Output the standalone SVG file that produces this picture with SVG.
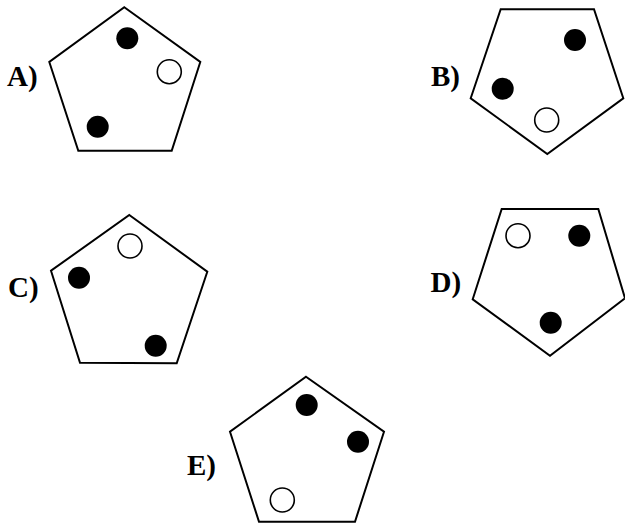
<svg xmlns="http://www.w3.org/2000/svg" width="625" height="525" viewBox="0 0 625 525">
<style>
.pent{fill:none;stroke:#000;stroke-width:2;stroke-linejoin:miter}
.dot{fill:#000}
.ring{fill:#fff;stroke:#000;stroke-width:1.6}
</style>
<rect width="625" height="525" fill="#fff"/>
<g id="optA">
<polygon class="pent" points="124.3,7.3 200.3,62 171.7,150.7 78.3,150.7 49.3,62"/>
<circle class="dot" cx="127.3" cy="38.3" r="11"/>
<circle class="ring" cx="169.3" cy="71.7" r="12"/>
<circle class="dot" cx="97.7" cy="126.7" r="11"/>
<text x="7" y="86" font-family="Liberation Serif, serif" font-weight="bold" font-size="29">A)</text>
</g>
<g id="optB">
<polygon class="pent" points="500.7,9.3 594,9.3 623.3,98.3 547.3,154 470.7,98.3"/>
<circle class="dot" cx="575" cy="40" r="11"/>
<circle class="dot" cx="502.7" cy="88.7" r="11"/>
<circle class="ring" cx="546.7" cy="120" r="12"/>
<text x="431" y="86" font-family="Liberation Serif, serif" font-weight="bold" font-size="29">B)</text>
</g>
<g id="optC">
<polygon class="pent" points="129.3,215 207.3,271.7 176.7,363.3 80,362.7 51,270.7"/>
<circle class="ring" cx="130" cy="246" r="12"/>
<circle class="dot" cx="79" cy="277.7" r="11"/>
<circle class="dot" cx="155.7" cy="345.7" r="11"/>
<text x="8" y="296.5" font-family="Liberation Serif, serif" font-weight="bold" font-size="29">C)</text>
</g>
<g id="optD">
<polygon class="pent" points="501.7,209 598.3,209 625,298.3 550,355.7 472.7,299.3"/>
<circle class="ring" cx="518" cy="235.7" r="12"/>
<circle class="dot" cx="579.3" cy="235.7" r="11"/>
<circle class="dot" cx="550.7" cy="322.7" r="11"/>
<text x="430.5" y="292.3" font-family="Liberation Serif, serif" font-weight="bold" font-size="29">D)</text>
</g>
<g id="optE">
<polygon class="pent" points="306,376.7 384,431.7 355,521.7 259,521.7 230,431.7"/>
<circle class="dot" cx="306.7" cy="405" r="11"/>
<circle class="dot" cx="358" cy="441.7" r="11"/>
<circle class="ring" cx="282.3" cy="500" r="12"/>
<text x="187" y="475" font-family="Liberation Serif, serif" font-weight="bold" font-size="29">E)</text>
</g>
<g id="connectors"></g>
</svg>
